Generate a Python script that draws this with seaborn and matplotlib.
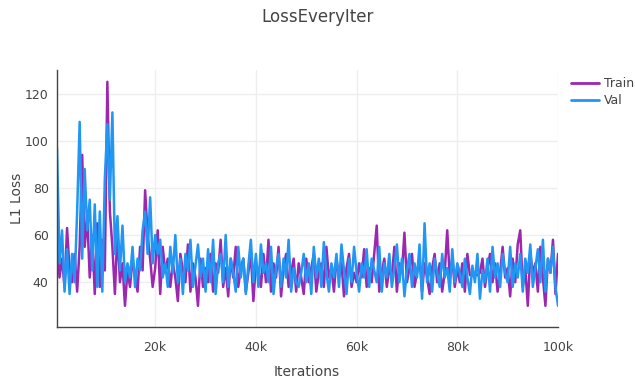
import numpy as np
import pandas as pd
import matplotlib
matplotlib.use("Agg")
import matplotlib.pyplot as plt
import seaborn as sns

iterations = list(range(500, 100001, 500))

train_loss = [
    58, 42, 50, 38, 63, 45, 40, 52, 36, 55,
    94, 55, 68, 42, 60, 35, 65, 38, 58, 45,
    125, 70, 55, 35, 62, 40, 48, 30, 45, 38,
    50, 42, 36, 55, 45, 79, 60, 50, 38, 46,
    62, 35, 55, 44, 50, 38, 48, 42, 32, 52,
    45, 40, 56, 36, 48, 42, 30, 50, 38, 46,
    40, 52, 36, 48, 44, 58, 38, 46, 34, 50,
    42, 55, 38, 46, 50, 36, 44, 52, 32, 48,
    45, 38, 52, 40, 58, 36, 48, 42, 55, 34,
    46, 52, 38, 44, 50, 36, 48, 42, 35, 50,
    40, 46, 52, 36, 44, 48, 38, 55, 42, 46,
    36, 50, 42, 48, 34, 46, 52, 38, 44, 40,
    48, 42, 54, 38, 46, 40, 52, 64, 36, 44,
    50, 38, 46, 42, 55, 36, 48, 44, 61, 40,
    46, 52, 38, 44, 50, 36, 48, 42, 35, 46,
    52, 40, 48, 36, 44, 62, 42, 50, 38, 46,
    40, 48, 36, 52, 43, 43, 43, 43, 44, 50,
    38, 46, 52, 40, 48, 36, 44, 55, 42, 46,
    34, 50, 40, 56, 62, 38, 46, 30, 52, 44,
    48, 36, 55, 42, 30, 50, 44, 58, 35, 52,
]

val_loss = [
    97, 48, 62, 36, 54, 35, 52, 40, 70, 108,
    50, 88, 62, 75, 45, 73, 38, 70, 36, 84,
    107, 75, 112, 52, 68, 45, 64, 40, 48, 42,
    55, 38, 50, 45, 62, 70, 52, 76, 48, 60,
    52, 58, 42, 48, 38, 55, 44, 60, 40, 50,
    35, 52, 45, 58, 38, 47, 56, 42, 50, 36,
    54, 40, 58, 35, 48, 52, 40, 60, 38, 50,
    44, 36, 55, 42, 50, 35, 47, 58, 40, 52,
    38, 56, 44, 48, 40, 55, 35, 46, 52, 38,
    50, 42, 58, 36, 46, 40, 38, 44, 52, 40,
    48, 35, 55, 42, 50, 38, 57, 44, 36, 48,
    42, 52, 38, 56, 45, 35, 50, 40, 55, 44,
    36, 48, 42, 54, 38, 50, 45, 40, 55, 36,
    48, 42, 52, 38, 46, 56, 40, 50, 34, 45,
    52, 38, 48, 42, 56, 33, 65, 40, 48, 36,
    50, 44, 38, 52, 42, 46, 36, 54, 40, 48,
    44, 38, 50, 42, 35, 47, 40, 52, 33, 45,
    40, 50, 36, 55, 42, 48, 38, 52, 44, 40,
    55, 38, 48, 42, 52, 36, 50, 44, 56, 38,
    46, 54, 40, 58, 36, 50, 44, 55, 38, 30,
]

series_names = ["Train", "Val"]
colors = {"Train": "#9c27b0", "Val": "#2196f3"}
y_ticks = [40, 60, 80, 100, 120]
x_ticks = [20000, 40000, 60000, 80000, 100000]
x_tick_labels = ["20k", "40k", "60k", "80k", "100k"]

df = pd.DataFrame({
    "Iterations": iterations * 2,
    "L1 Loss": train_loss + val_loss,
    "series": ["Train"] * len(train_loss) + ["Val"] * len(val_loss),
})

sns.set_theme(style="white")
plt.rcParams["font.family"] = ["DejaVu Sans"]
text_color = "#444444"

fig = plt.figure(figsize=(6.35, 3.79), dpi=100)
ax = fig.add_axes([57 / 635, 1 - 327 / 379, (558 - 57) / 635, (327 - 70) / 379])

sns.lineplot(data=df, x="Iterations", y="L1 Loss", hue="series",
             hue_order=series_names, palette=colors, linewidth=1.8,
             ax=ax, legend=False, estimator=None)

ax.set_xlim(500, 100000)
ax.set_ylim(21, 130)
ax.set_xticks(x_ticks)
ax.set_xticklabels(x_tick_labels)
ax.set_yticks(y_ticks)
ax.grid(True, color="#eeeeee", linewidth=1)
ax.set_axisbelow(True)
for s in ["top", "right"]:
    ax.spines[s].set_visible(False)
for s in ["left", "bottom"]:
    ax.spines[s].set_color(text_color)
    ax.spines[s].set_linewidth(1)
ax.tick_params(axis="both", colors=text_color, labelsize=9, length=4,
               width=1, direction="out", labelcolor=text_color)
ax.tick_params(axis="y", length=0, pad=6)
ax.tick_params(axis="x", pad=6)
ax.set_xlabel("")
ax.set_ylabel("")

fig.text(307 / 635, 1 - 372 / 379, "Iterations", ha="center", va="center",
         fontsize=10, color=text_color)
fig.text(17 / 635, 1 - 198 / 379, "L1 Loss", ha="center", va="center",
         fontsize=10, color=text_color, rotation=90)
fig.text(0.5, 1 - 17 / 379, "LossEveryIter", ha="center", va="center",
         fontsize=12, color=text_color)

handles = [plt.Line2D([0], [0], color=colors[n], linewidth=2) for n in series_names]
leg = fig.legend(handles, series_names, loc="upper left",
                 bbox_to_anchor=(566 / 635, 1 - 72 / 379), frameon=False,
                 fontsize=9, handlelength=2.2, handletextpad=0.4,
                 labelspacing=0.35, borderaxespad=0)
for t in leg.get_texts():
    t.set_color(text_color)

fig.savefig("out.png", dpi=100)
